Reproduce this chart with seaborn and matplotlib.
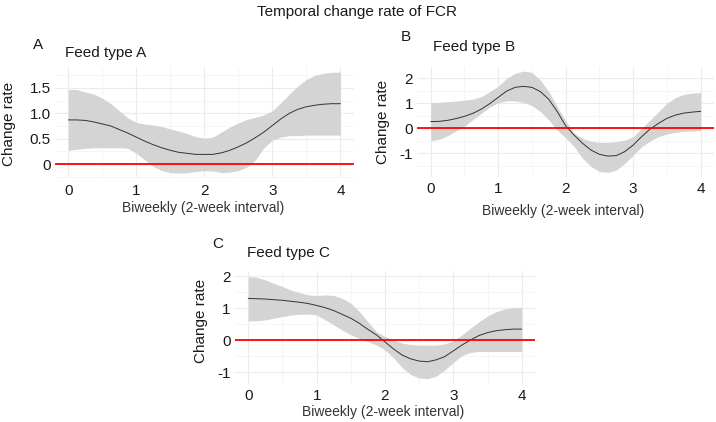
"""Temporal change rate of FCR: fitted curve with ribbon for three feed types."""

import matplotlib
matplotlib.use("Agg")
import matplotlib.pyplot as plt
import pandas as pd
import seaborn as sns

W, H = 716, 422

BIWEEK = [0, 0.125, 0.25, 0.375, 0.5, 0.625, 0.75, 0.875,
          1, 1.125, 1.25, 1.375, 1.5, 1.625, 1.75, 1.875,
          2, 2.125, 2.25, 2.375, 2.5, 2.625, 2.75, 2.875,
          3, 3.125, 3.25, 3.375, 3.5, 3.625, 3.75, 3.875, 4]

# Feed type A
A_FIT = [0.87, 0.87, 0.86, 0.83, 0.79, 0.75, 0.68, 0.61,
         0.53, 0.45, 0.38, 0.32, 0.27, 0.23, 0.21, 0.19,
         0.19, 0.19, 0.22, 0.27, 0.34, 0.42, 0.52, 0.63,
         0.76, 0.89, 1.00, 1.08, 1.13, 1.16, 1.18, 1.19, 1.19]
A_UPPER = [1.47, 1.47, 1.42, 1.38, 1.30, 1.19, 1.05, 0.91,
           0.82, 0.79, 0.77, 0.74, 0.69, 0.65, 0.60, 0.54,
           0.51, 0.53, 0.63, 0.73, 0.81, 0.88, 0.92, 0.97,
           1.05, 1.21, 1.38, 1.54, 1.67, 1.75, 1.79, 1.81, 1.81]
A_LOWER = [0.27, 0.29, 0.31, 0.32, 0.32, 0.32, 0.32, 0.31,
           0.21, 0.08, -0.05, -0.13, -0.17, -0.18, -0.17, -0.15,
           -0.13, -0.14, -0.17, -0.16, -0.13, -0.06, 0.08, 0.32,
           0.47, 0.53, 0.56, 0.56, 0.57, 0.57, 0.57, 0.57, 0.57]

# Feed type B
B_FIT = [0.27, 0.28, 0.32, 0.39, 0.48, 0.60, 0.77, 0.99,
         1.24, 1.49, 1.64, 1.68, 1.64, 1.47, 1.16, 0.67,
         0.10, -0.27, -0.60, -0.87, -1.04, -1.11, -1.09, -0.93,
         -0.67, -0.33, -0.03, 0.20, 0.40, 0.53, 0.61, 0.65, 0.68]
B_UPPER = [1.03, 1.04, 1.07, 1.09, 1.13, 1.17, 1.27, 1.47,
           1.69, 2.00, 2.20, 2.29, 2.24, 1.93, 1.47, 0.87,
           0.30, -0.20, -0.40, -0.51, -0.56, -0.56, -0.53, -0.47,
           -0.33, 0.00, 0.33, 0.67, 1.00, 1.23, 1.36, 1.41, 1.43]
B_LOWER = [-0.49, -0.44, -0.30, -0.10, 0.08, 0.35, 0.60, 0.85,
           1.02, 1.10, 1.10, 1.04, 0.91, 0.67, 0.33, -0.07,
           -0.38, -0.73, -1.20, -1.53, -1.73, -1.76, -1.67, -1.40,
           -1.07, -0.73, -0.51, -0.33, -0.23, -0.16, -0.12, -0.11, -0.09]

# Feed type C
C_FIT = [1.31, 1.30, 1.29, 1.27, 1.25, 1.22, 1.19, 1.15,
         1.09, 1.02, 0.93, 0.81, 0.69, 0.53, 0.34, 0.17,
         -0.05, -0.27, -0.46, -0.58, -0.65, -0.67, -0.61, -0.51,
         -0.33, -0.15, 0.01, 0.15, 0.24, 0.30, 0.33, 0.35, 0.35]
C_UPPER = [1.99, 1.97, 1.89, 1.78, 1.68, 1.57, 1.49, 1.42,
           1.40, 1.42, 1.40, 1.31, 1.16, 0.90, 0.58, 0.27,
           0.12, 0.01, -0.09, -0.13, -0.15, -0.15, -0.15, -0.11,
           -0.02, 0.17, 0.38, 0.58, 0.76, 0.90, 0.98, 1.02, 1.03]
C_LOWER = [0.60, 0.61, 0.64, 0.69, 0.74, 0.79, 0.81, 0.82,
           0.79, 0.64, 0.48, 0.32, 0.17, 0.06, -0.04, -0.15,
           -0.30, -0.55, -0.85, -1.07, -1.18, -1.20, -1.12, -0.93,
           -0.69, -0.48, -0.38, -0.35, -0.35, -0.35, -0.35, -0.35, -0.35]

X_TICKS = [0, 1, 2, 3, 4]
A_YTICKS = [0, 0.5, 1.0, 1.5]
A_YLABELS = ["0", "0.5", "1.0", "1.5"]
BC_YTICKS = [-1, 0, 1, 2]
BC_YLABELS = ["-1", "0", "1", "2"]


def px(x, y):
    """Пиксели картинки -> доли фигуры."""
    return x / W, 1 - y / H


def axes_box(left, right, top, bottom):
    return [left / W, 1 - bottom / H, (right - left) / W, (bottom - top) / H]


sns.set_theme(style="whitegrid")
plt.rcParams["font.family"] = ["Liberation Sans", "DejaVu Sans"]

fig = plt.figure(figsize=(W / 100, H / 100), dpi=100)
fig.patch.set_facecolor("white")

panels = [
    dict(letter="A", fit=A_FIT, up=A_UPPER, lo=A_LOWER,
         box=axes_box(54.7, 354.0, 66.7, 178.2), ylim=(-0.28, 1.92),
         yticks=A_YTICKS, ylabels=A_YLABELS, minor=[-0.25, 0.25, 0.75, 1.25, 1.75],
         letter_xy=(38, 45), title_xy=(65, 57.5), ylab_xy=(9, 124), xlab_xy=(203, 208)),
    dict(letter="B", fit=B_FIT, up=B_UPPER, lo=B_LOWER,
         box=axes_box(417.2, 714.2, 66.6, 176.6), ylim=(-1.93, 2.47),
         yticks=BC_YTICKS, ylabels=BC_YLABELS, minor=[-1.5, -0.5, 0.5, 1.5],
         letter_xy=(406, 37), title_xy=(433, 51.5), ylab_xy=(383, 122), xlab_xy=(563, 211)),
    dict(letter="C", fit=C_FIT, up=C_UPPER, lo=C_LOWER,
         box=axes_box(234.6, 535.4, 270.9, 383.8), ylim=(-1.36, 2.17),
         yticks=BC_YTICKS, ylabels=BC_YLABELS, minor=[-0.5, 0.5, 1.5],
         letter_xy=(218, 244), title_xy=(247, 257.5), ylab_xy=(201, 321), xlab_xy=(383, 412)),
]

for p in panels:
    df = pd.DataFrame({"biweek": BIWEEK, "fit": p["fit"],
                       "upper": p["up"], "lower": p["lo"]})
    ax = fig.add_axes(p["box"])
    ax.set_facecolor("white")
    ax.fill_between(df["biweek"], df["lower"], df["upper"],
                    color="#d4d4d4", linewidth=0, zorder=2)
    sns.lineplot(data=df, x="biweek", y="fit", ax=ax, color="#333333",
                 linewidth=0.7, zorder=3)
    ax.axhline(0, color="red", linewidth=1.3, zorder=4)

    ax.set_xlim(-0.2, 4.2)
    ax.set_ylim(*p["ylim"])
    ax.set_xticks(X_TICKS)
    ax.set_xticklabels([str(t) for t in X_TICKS])
    ax.set_xticks([0.5, 1.5, 2.5, 3.5], minor=True)
    ax.set_yticks(p["yticks"])
    ax.set_yticklabels(p["ylabels"])
    ax.set_yticks(p["minor"], minor=True)
    ax.grid(which="major", color="#ebebeb", linewidth=0.8)
    ax.grid(which="minor", color="#f4f4f4", linewidth=0.6)
    ax.tick_params(axis="both", which="both", length=0, labelsize=11,
                   labelcolor="#1a1a1a")
    ax.tick_params(axis="x", pad=4)
    ax.tick_params(axis="y", pad=3)
    for s in ax.spines.values():
        s.set_visible(False)
    ax.set_xlabel("")
    ax.set_ylabel("")

    fig.text(*px(*p["letter_xy"]), p["letter"], fontsize=11, ha="center",
             va="center", color="#1a1a1a")
    fig.text(*px(*p["title_xy"]), f"Feed type {p['letter']}", fontsize=11,
             ha="left", va="baseline", color="#1a1a1a")
    fig.text(*px(*p["ylab_xy"]), "Change rate", fontsize=11, rotation=90,
             ha="center", va="center", color="#1a1a1a")
    fig.text(*px(*p["xlab_xy"]), "Biweekly (2-week interval)", fontsize=10,
             ha="center", va="center", color="#333333")

fig.text(*px(357, 12), "Temporal change rate of FCR", fontsize=11,
         ha="center", va="center", color="#1a1a1a")

fig.savefig("out.png", dpi=100)
